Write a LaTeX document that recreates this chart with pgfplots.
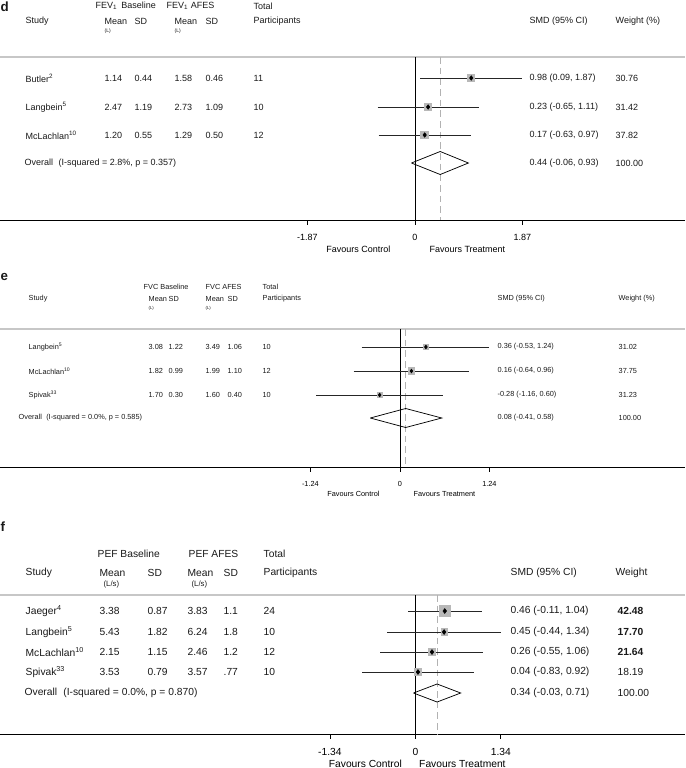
\documentclass[border=0pt]{standalone}
\usepackage{pgfplots}
\pgfplotsset{compat=1.18}
\usepackage{fontspec}
\setmainfont{Liberation Sans}
\newcommand\fd{\fontsize{6.75}{8}\selectfont}
\newcommand\fdd{\fontsize{3.8}{4.5}\selectfont}
\newcommand\fe{\fontsize{5.5}{6.5}\selectfont}
\newcommand\fee{\fontsize{3.2}{4}\selectfont}
\newcommand\ff{\fontsize{7.7}{9}\selectfont}
\newcommand\fff{\fontsize{5.8}{7}\selectfont}
\newcommand\flab{\fontsize{10}{12}\selectfont\bfseries}
\begin{document}
\begin{tikzpicture}
\begin{scope}[x=0.75pt,y=-0.75pt, tx/.style={anchor=west, inner sep=0pt, text=black!90}]
\path[use as bounding box] (0,0) rectangle (685,768);
\coordinate (dA) at (0,220);
\coordinate (eA) at (0,467);
\coordinate (fA) at (0,734);
% separators
\draw[black!22, line width=1pt] (0,57) -- (685,57);
\draw[black!22, line width=1pt] (0,329) -- (685,329);
\draw[black!22, line width=1pt] (0,595) -- (685,595);
% ---------- panel d ----------
\node[tx] at (0,7) {\flab d};
\node[tx] at (95,6) {\fd FEV\textsubscript{1}\, Baseline};
\node[tx] at (166,6) {\fd FEV\textsubscript{1} AFES};
\node[tx] at (253,6) {\fd Total};
\node[tx] at (25,21) {\fd Study};
\node[tx] at (104,21) {\fd Mean};
\node[tx] at (104,31) {\fdd (L)};
\node[tx] at (134,21) {\fd SD};
\node[tx] at (174,21) {\fd Mean};
\node[tx] at (174,31) {\fdd (L)};
\node[tx] at (205,21) {\fd SD};
\node[tx] at (253,21) {\fd Participants};
\node[tx] at (529,21) {\fd SMD (95\% CI)};
\node[tx] at (615,21) {\fd Weight (\%)};
\foreach \y/\s/\ma/\sa/\mb/\sb/\n/\ci/\w in {
 78/Butler\textsuperscript{2}/1.14/0.44/1.58/0.46/11/{0.98 (0.09, 1.87)}/30.76,
 107/Langbein\textsuperscript{5}/2.47/1.19/2.73/1.09/10/{0.23 (-0.65, 1.11)}/31.42,
 135/McLachlan\textsuperscript{10}/1.20/0.55/1.29/0.50/12/{0.17 (-0.63, 0.97)}/37.82}{
 \node[tx] at (25,\y) {\fd \s};
 \node[tx] at (104,\y) {\fd \ma};
 \node[tx] at (134,\y) {\fd \sa};
 \node[tx] at (174,\y) {\fd \mb};
 \node[tx] at (205,\y) {\fd \sb};
 \node[tx] at (253,\y) {\fd \n};
 \node[tx] at (529,\y) {\fd \ci};
 \node[tx] at (615,\y) {\fd \w};
}
\node[tx] at (24,163) {\fd Overall\hspace{0.6em}(I-squared = 2.8\%, p = 0.357)};
\node[tx] at (529,163) {\fd 0.44 (-0.06, 0.93)};
\node[tx] at (615,163) {\fd 100.00};
\node[inner sep=0pt] at (358,249) {\fd Favours Control};
\node[inner sep=0pt] at (467,249) {\fd Favours Treatment};
% ---------- panel e ----------
\node[tx] at (0,277) {\flab e};
\node[tx] at (143,287) {\fe FVC Baseline};
\node[tx] at (205,287) {\fe FVC AFES};
\node[tx] at (262,287) {\fe Total};
\node[tx] at (28,299) {\fe Study};
\node[tx] at (148,299) {\fe Mean};
\node[tx] at (148,308) {\fee (L)};
\node[tx] at (168,299) {\fe SD};
\node[tx] at (205,299) {\fe Mean};
\node[tx] at (205,308) {\fee (L)};
\node[tx] at (227,299) {\fe SD};
\node[tx] at (262,299) {\fe Participants};
\node[tx] at (497,299) {\fe SMD (95\% CI)};
\node[tx] at (618,299) {\fe Weight (\%)};
\foreach \y/\s/\ma/\sa/\mb/\sb/\n/\ci/\w in {
 347/Langbein\textsuperscript{5}/3.08/1.22/3.49/1.06/10/{0.36 (-0.53, 1.24)}/31.02,
 371/McLachlan\textsuperscript{10}/1.82/0.99/1.99/1.10/12/{0.16 (-0.64, 0.96)}/37.75,
 395/Spivak\textsuperscript{33}/1.70/0.30/1.60/0.40/10/{-0.28 (-1.16, 0.60)}/31.23}{
 \node[tx] at (28,\y) {\fe \s};
 \node[tx] at (148,\y) {\fe \ma};
 \node[tx] at (168,\y) {\fe \sa};
 \node[tx] at (205,\y) {\fe \mb};
 \node[tx] at (227,\y) {\fe \sb};
 \node[tx] at (262,\y) {\fe \n};
 \node[tx] at (497,\y) {\fe \ci};
 \node[tx] at (618,\y) {\fe \w};
}
\node[tx] at (18,418) {\fe Overall\hspace{0.6em}(I-squared = 0.0\%, p = 0.585)};
\node[tx] at (497,418) {\fe 0.08 (-0.41, 0.58)};
\node[tx] at (618,418) {\fe 100.00};
\node[inner sep=0pt] at (353,494) {\fe Favours Control};
\node[inner sep=0pt] at (444,494) {\fe Favours Treatment};
% ---------- panel f ----------
\node[tx] at (0,527) {\flab f};
\node[tx] at (97,554) {\ff PEF Baseline};
\node[tx] at (188,554) {\ff PEF AFES};
\node[tx] at (263,554) {\ff Total};
\node[tx] at (25,573) {\ff Study};
\node[tx] at (99,573) {\ff Mean};
\node[tx] at (103,584) {\fff (L/s)};
\node[tx] at (147,573) {\ff SD};
\node[tx] at (187,573) {\ff Mean};
\node[tx] at (191,584) {\fff (L/s)};
\node[tx] at (223,573) {\ff SD};
\node[tx] at (263,573) {\ff Participants};
\node[tx] at (510,573) {\ff SMD (95\% CI)};
\node[tx] at (615,573) {\ff Weight};
\foreach \y/\s/\ma/\sa/\mb/\sb/\n/\ci/\w in {
 611/Jaeger\textsuperscript{4}/3.38/0.87/3.83/1.1/24/{0.46 (-0.11, 1.04)}/\textbf{42.48},
 632/Langbein\textsuperscript{5}/5.43/1.82/6.24/1.8/10/{0.45 (-0.44, 1.34)}/\textbf{17.70},
 652/McLachlan\textsuperscript{10}/2.15/1.15/2.46/1.2/12/{0.26 (-0.55, 1.06)}/\textbf{21.64},
 672/Spivak\textsuperscript{33}/3.53/0.79/3.57/.77/10/{0.04 (-0.83, 0.92)}/18.19}{
 \node[tx] at (25,\y) {\ff \s};
 \node[tx] at (99,\y) {\ff \ma};
 \node[tx] at (147,\y) {\ff \sa};
 \node[tx] at (187,\y) {\ff \mb};
 \node[tx] at (223,\y) {\ff \sb};
 \node[tx] at (263,\y) {\ff \n};
 \node[tx] at (510,\y) {\ff \ci};
 \node[tx] at (617,\y) {\ff \w};
}
\node[tx] at (24,693) {\ff Overall\hspace{0.6em}(I-squared = 0.0\%, p = 0.870)};
\node[tx] at (510,693) {\ff 0.34 (-0.03, 0.71)};
\node[tx] at (617,693) {\ff 100.00};
\node[inner sep=0pt] at (365,764) {\ff Favours Control};
\node[inner sep=0pt] at (462,764) {\ff Favours Treatment};
\end{scope}
\pgfplotsset{forest/.style={scale only axis, width=513.75pt, anchor=south west,
  axis x line=bottom, axis y line=none, x axis line style={-, line width=0.6pt},
  tick align=outside, major tick length=3.5pt, xtick style={line width=0.6pt, black},
  clip=false, ytick=\empty},
  sq/.style={only marks, mark=square*, color=black!28, mark options={solid, fill=black!28, draw=black!28, line width=0pt}},
  dm/.style={only marks, mark=diamond*, color=black, mark size=1.7pt, mark options={solid, fill=black, draw=black}},
  ci/.style={black!85, line width=0.55pt},
  zl/.style={black, line width=0.6pt},
  dl/.style={black!30, line width=0.6pt, dash pattern=on 5pt off 3pt},
  ov/.style={black, line width=0.55pt}}
% panel d
\begin{axis}[forest, at={(dA)}, height=122.25pt, xmin=-7.2087, xmax=4.7043, ymin=-220, ymax=-57,
  xtick={-1.87,0,1.87}, xticklabels={-1.87,0,1.87}, xticklabel style={font=\fd, yshift=-4pt}]
\addplot[zl] coordinates {(0,-57) (0,-220)};
\addplot[dl] coordinates {(0.44,-57) (0.44,-220)};
\addplot[ci] coordinates {(0.09,-78) (1.87,-78)};
\addplot[ci] coordinates {(-0.65,-107) (1.11,-107)};
\addplot[ci] coordinates {(-0.63,-135) (0.97,-135)};
\addplot[sq, mark size=2.6pt] coordinates {(0.98,-78)};
\addplot[sq, mark size=2.6pt] coordinates {(0.23,-107)};
\addplot[sq, mark size=2.9pt] coordinates {(0.17,-135)};
\addplot[dm] coordinates {(0.98,-78) (0.23,-107) (0.17,-135)};
\addplot[ov] coordinates {(-0.06,-163) (0.44,-151.5) (0.93,-163) (0.44,-174.5) (-0.06,-163)};
\end{axis}
% panel e
\begin{axis}[forest, at={(eA)}, height=103.5pt, xmin=-5.5332, xmax=3.9543, ymin=-467, ymax=-329,
  xtick={-1.24,0,1.24}, xticklabels={-1.24,0,1.24}, xticklabel style={font=\fe, yshift=-3.5pt}]
\addplot[zl] coordinates {(0,-329) (0,-467)};
\addplot[dl] coordinates {(0.08,-329) (0.08,-467)};
\addplot[ci] coordinates {(-0.53,-347) (1.24,-347)};
\addplot[ci] coordinates {(-0.64,-371) (0.96,-371)};
\addplot[ci] coordinates {(-1.16,-395) (0.60,-395)};
\addplot[sq, mark size=2.0pt] coordinates {(0.36,-347)};
\addplot[sq, mark size=2.3pt] coordinates {(0.16,-371)};
\addplot[sq, mark size=2.0pt] coordinates {(-0.28,-395)};
\addplot[dm, mark size=1.4pt] coordinates {(0.36,-347) (0.16,-371) (-0.28,-395)};
\addplot[ov] coordinates {(-0.41,-418) (0.08,-408.5) (0.58,-418) (0.08,-427.5) (-0.41,-418)};
\end{axis}
% panel f
\begin{axis}[forest, at={(fA)}, height=104.25pt, xmin=-6.5047, xmax=4.2320, ymin=-734, ymax=-595,
  xtick={-1.34,0,1.34}, xticklabels={-1.34,0,1.34}, xticklabel style={font=\ff, yshift=-3.6pt}]
\addplot[zl] coordinates {(0,-595) (0,-734)};
\addplot[dl] coordinates {(0.34,-595) (0.34,-734)};
\addplot[ci] coordinates {(-0.11,-611) (1.04,-611)};
\addplot[ci] coordinates {(-0.44,-632) (1.34,-632)};
\addplot[ci] coordinates {(-0.55,-652) (1.06,-652)};
\addplot[ci] coordinates {(-0.83,-672) (0.92,-672)};
\addplot[sq, mark size=4.0pt] coordinates {(0.46,-611)};
\addplot[sq, mark size=2.3pt] coordinates {(0.45,-632)};
\addplot[sq, mark size=2.7pt] coordinates {(0.26,-652)};
\addplot[sq, mark size=2.3pt] coordinates {(0.04,-672)};
\addplot[dm, mark size=1.8pt] coordinates {(0.46,-611) (0.45,-632) (0.26,-652) (0.04,-672)};
\addplot[ov] coordinates {(-0.03,-693) (0.34,-684) (0.71,-693) (0.34,-702) (-0.03,-693)};
\end{axis}
\end{tikzpicture}
\end{document}
